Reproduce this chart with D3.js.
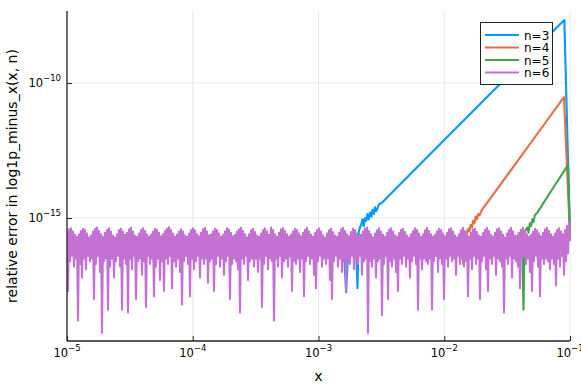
<!DOCTYPE html>
<html><head><meta charset="utf-8">
<script src="https://cdn.jsdelivr.net/npm/d3@7"></script>
<style>body{margin:0;background:#fff} text{font-family:"DejaVu Sans",sans-serif;fill:#000}</style>
</head><body><svg id="c" width="581" height="388"></svg>
<script>
// tick exponents
const xTickExp = [-5, -4, -3, -2, -1];
const yTickExp = [-15, -10];
const seriesNames = ["n=3", "n=4", "n=5", "n=6"];
const seriesColors = ["#009afa", "#e36f47", "#3ea44e", "#c371d2"];

// n=6 : log10(relative error), sampled on a log-spaced grid from 1e-5 to 1e-1
const n6LogErr = [
-15.5,-17.7,-15.42,-16.6,-15.38,-16.4,-15.5,-16.8,-15.62,-16.5,-15.7,-18.8,-15.6,-16.7,-15.48,-17.2,-15.4,-16.5,-15.45,-16.9,-15.58,-16.4,-15.72,-16.6,
-15.65,-16.5,-15.5,-18.0,-15.4,-16.7,-15.35,-16.4,-15.48,-17.0,-15.6,-19.26,-15.7,-16.6,-15.55,-16.5,-15.45,-18.4,-15.38,-16.8,-15.5,-16.5,-15.66,-17.2,
-15.72,-16.6,-15.6,-16.4,-15.45,-16.8,-15.4,-18.4,-15.5,-16.5,-15.62,-16.7,-15.55,-18.5,-15.42,-16.5,-15.36,-16.9,-15.5,-16.4,-15.66,-18.0,-15.7,-16.6,
-15.58,-16.5,-15.45,-17.1,-15.38,-16.6,-15.48,-18.3,-15.6,-16.4,-15.7,-16.7,-15.62,-16.5,-15.5,-17.9,-15.4,-16.8,-15.45,-16.5,-15.55,-17.3,-15.68,-16.6,
-15.6,-17.7,-15.48,-16.5,-15.4,-16.7,-15.34,-16.4,-15.45,-17.6,-15.58,-16.6,-15.7,-16.8,-15.62,-16.5,-15.5,-17.0,-15.42,-18.2,-15.5,-16.6,-15.64,-16.4,
-15.7,-16.7,-15.58,-17.9,-15.45,-16.5,-15.38,-16.9,-15.46,-16.6,-15.6,-16.4,-15.68,-17.2,-15.55,-16.5,-15.42,-16.7,-15.36,-16.5,-15.5,-17.4,-15.64,-16.6,
-15.6,-16.5,-15.5,-17.7,-15.4,-16.7,-15.45,-16.4,-15.58,-16.8,-15.7,-16.5,-15.62,-17.1,-15.5,-16.6,-15.38,-16.4,-15.44,-18.0,-15.56,-16.7,-15.68,-16.5,
-15.62,-16.6,-15.5,-16.9,-15.42,-18.5,-15.36,-16.5,-15.48,-16.7,-15.6,-16.4,-15.72,-17.3,-15.6,-16.6,-15.46,-16.5,-15.4,-16.8,-15.52,-16.5,-15.65,-17.0,
-15.7,-16.5,-15.58,-18.3,-15.45,-16.7,-15.38,-16.4,-15.5,-16.9,-15.62,-16.5,-15.35,-16.6,-15.45,-18.8,-15.6,-16.5,-15.7,-16.8,-15.55,-16.4,-15.42,-17.2,
-15.38,-16.6,-15.48,-16.5,-15.6,-16.8,-15.7,-16.4,-15.62,-17.7,-15.5,-16.6,-15.4,-16.7,-15.45,-16.5,-15.58,-17.0,-15.68,-16.5,-15.55,-17.9,-15.44,-16.6,
-15.36,-16.4,-15.5,-16.7,-15.62,-16.5,-15.7,-17.1,-15.56,-17.6,-15.45,-16.6,-15.38,-16.4,-15.5,-16.8,-15.64,-16.5,-15.72,-16.7,-15.58,-16.5,-15.46,-17.3,
-15.4,-18.0,-15.52,-16.6,-15.65,-16.4,-15.7,-16.8,-15.55,-16.5,-15.42,-17.0,-15.36,-16.6,-15.48,-17.7,-15.6,-16.5,-15.68,-16.7,-15.52,-16.4,-15.4,-16.9,
-15.45,-16.5,-15.58,-16.7,-15.7,-16.4,-15.62,-17.1,-15.5,-16.6,-15.4,-16.5,-15.35,-19.26,-15.48,-16.6,-15.6,-16.8,-15.72,-16.5,-15.58,-17.2,-15.46,-16.6,
-15.38,-16.5,-15.5,-18.6,-15.62,-16.7,-15.7,-16.4,-15.55,-18.0,-15.44,-16.6,-15.38,-16.8,-15.5,-16.5,-15.64,-17.0,-15.7,-17.7,-15.56,-16.5,-15.45,-16.7,
-15.4,-16.4,-15.52,-16.8,-15.65,-16.5,-15.72,-17.2,-15.6,-16.6,-15.48,-16.4,-15.38,-16.7,-15.45,-18.4,-15.58,-16.5,-15.7,-16.9,-15.6,-16.5,-15.46,-16.6,
-15.36,-16.7,-15.48,-16.5,-15.6,-18.4,-15.7,-16.6,-15.62,-16.4,-15.5,-17.0,-15.4,-16.5,-15.45,-16.7,-15.58,-18.0,-15.68,-16.5,-15.55,-16.8,-15.42,-16.4,
-15.38,-16.6,-15.5,-16.5,-15.64,-17.1,-15.72,-16.4,-15.6,-16.7,-15.46,-16.5,-15.36,-16.8,-15.48,-16.6,-15.6,-17.9,-15.7,-16.5,-15.55,-16.9,-15.42,-16.4,
-15.4,-16.7,-15.52,-16.5,-15.66,-18.0,-15.7,-16.6,-15.56,-16.4,-15.44,-16.9,-15.36,-17.7,-15.48,-16.5,-15.62,-16.7,-15.7,-16.4,-15.55,-17.1,-15.42,-16.5,
-15.38,-16.6,-15.5,-16.8,-15.62,-18.5,-15.72,-16.5,-15.58,-16.7,-15.45,-16.4,-15.36,-17.2,-15.5,-16.5,-15.64,-16.6,-15.7,-16.8,-15.55,-17.6,-15.44,-16.5,
-15.36,-16.4,-15.48,-16.7,-15.6,-16.5,-15.7,-17.0,-15.62,-17.7,-15.5,-16.6,-15.4,-16.4,-15.46,-16.8,-15.58,-17.9,-15.68,-16.5,-15.55,-16.7,-15.42,-16.5,
-15.36,-16.6,-15.48,-16.9,-15.6,-16.5,-15.7,-16.7,-15.58,-17.5,-15.45,-16.5,-15.38,-16.8,-15.5,-16.4,-15.6,-17.1,-15.45,-16.6,-15.3,-16.3,-15.15,-15.85
];

// n=3 : visible part (log10 x, log10 error)
const n3LogX   = [-2.95,-2.85,-2.80,-2.78,-2.76,-2.72,-2.70,-2.69,-2.68,-2.67,-2.66,-2.65,-2.64,-2.63,-2.62,-2.61,-2.60,-2.59,-2.58,-2.57,-2.56,-2.55,-2.54,-2.52,-2.50,-2.20,-1.80,-1.40,-1.045,-1.0];
const n3LogErr = [-15.8,-15.9,-16.0,-17.75,-15.8,-15.6,-16.2,-17.6,-15.5,-15.35,-15.25,-15.05,-15.3,-15.0,-15.1,-14.85,-15.05,-14.8,-14.95,-14.7,-14.85,-14.6,-14.75,-14.5,-14.45,-13.05,-11.18,-9.31,-7.67,-15.7];

// n=4
const n4LogX   = [-1.90,-1.86,-1.85,-1.84,-1.82,-1.81,-1.80,-1.79,-1.78,-1.77,-1.76,-1.75,-1.74,-1.73,-1.72,-1.70,-1.40,-1.20,-1.048,-1.0];
const n4LogErr = [-15.8,-15.8,-16.7,-15.7,-15.55,-15.4,-15.5,-15.25,-15.35,-15.1,-15.2,-14.95,-15.05,-14.85,-14.9,-14.7,-12.78,-11.5,-10.52,-15.7];

// n=5
const n5LogX   = [-1.45,-1.42,-1.40,-1.38,-1.37,-1.36,-1.34,-1.33,-1.32,-1.31,-1.30,-1.29,-1.28,-1.26,-1.15,-1.016,-1.0];
const n5LogErr = [-15.8,-15.7,-15.55,-15.6,-18.4,-15.5,-15.35,-15.55,-15.2,-15.3,-15.05,-15.15,-14.9,-14.8,-14.0,-13.04,-15.6];

const L = 67, R = 570, T = 11, B = 341;
const svg = d3.select("#c");

const x = d3.scaleLog().domain([1e-5, 1e-1]).range([L, R]);
const y = d3.scaleLog().domain([10 ** -19.556, 10 ** -7.333]).range([B, T]);

// grid
const g = svg.append("g");
g.selectAll(".gx").data(xTickExp).join("line")
  .attr("x1", d => x(10 ** d)).attr("x2", d => x(10 ** d))
  .attr("y1", T).attr("y2", B).attr("stroke", "#000").attr("stroke-opacity", 0.09).attr("stroke-width", 1);
g.selectAll(".gy").data(yTickExp).join("line")
  .attr("x1", L).attr("x2", R)
  .attr("y1", d => y(10 ** d)).attr("y2", d => y(10 ** d)).attr("stroke", "#000").attr("stroke-opacity", 0.09).attr("stroke-width", 1);

// series
const n6LogX = n6LogErr.map((_, i) => -5 + 4 * i / (n6LogErr.length - 1));
const series = [
  {xs: n3LogX, ys: n3LogErr},
  {xs: n4LogX, ys: n4LogErr},
  {xs: n5LogX, ys: n5LogErr},
  {xs: n6LogX, ys: n6LogErr}
];
svg.append("clipPath").attr("id", "clip").append("rect")
  .attr("x", L).attr("y", T).attr("width", R - L + 1).attr("height", B - T);
const line = d3.line().x(d => x(10 ** d[0])).y(d => y(10 ** d[1]));
const lg = svg.append("g").attr("clip-path", "url(#clip)");
series.forEach((s, k) => {
  lg.append("path")
    .attr("d", line(s.xs.map((v, i) => [v, s.ys[i]])))
    .attr("fill", "none").attr("stroke", seriesColors[k])
    .attr("stroke-width", 2.1).attr("stroke-linejoin", "round");
});

// axes
const xAxis = d3.axisBottom(x).tickValues(xTickExp.map(e => 10 ** e)).tickSizeInner(-5).tickSizeOuter(0).tickFormat("");
const yAxis = d3.axisLeft(y).tickValues(yTickExp.map(e => 10 ** e)).tickSizeInner(-5).tickSizeOuter(0).tickFormat("");
const ax = svg.append("g").attr("transform", `translate(0,${B})`).call(xAxis);
const ay = svg.append("g").attr("transform", `translate(${L},0)`).call(yAxis);
[ax, ay].forEach(a => {
  a.select(".domain").remove();
  a.selectAll(".tick line").attr("stroke", "#222").attr("stroke-width", 1);
});
svg.append("line").attr("x1", L).attr("x2", R).attr("y1", B).attr("y2", B).attr("stroke", "#222").attr("stroke-width", 1.3);
svg.append("line").attr("x1", L).attr("x2", L).attr("y1", T).attr("y2", B).attr("stroke", "#222").attr("stroke-width", 1.3);

// tick labels
xTickExp.forEach(e => {
  const t = svg.append("text").attr("x", x(10 ** e)).attr("y", 357).attr("text-anchor", "middle").attr("font-size", 11.5);
  t.append("tspan").text("10");
  t.append("tspan").attr("dy", -6).attr("font-size", 8.5).text("\u2212" + Math.abs(e));
});
yTickExp.forEach(e => {
  const t = svg.append("text").attr("x", 61).attr("y", y(10 ** e) + 4).attr("text-anchor", "end").attr("font-size", 11.5);
  t.append("tspan").text("10");
  t.append("tspan").attr("dy", -6).attr("font-size", 8.5).text("\u2212" + Math.abs(e));
});

// axis titles
svg.append("text").attr("x", (L + R) / 2).attr("y", 381).attr("text-anchor", "middle").attr("font-size", 14).text("x");
svg.append("text").attr("transform", `translate(17,${(T + B) / 2}) rotate(-90)`)
  .attr("text-anchor", "middle").attr("font-size", 14).text("relative error in log1p_minus_x(x, n)");

// legend
const leg = svg.append("g");
leg.append("rect").attr("x", 480.5).attr("y", 22.5).attr("width", 72).attr("height", 62)
  .attr("fill", "#fff").attr("stroke", "#222").attr("stroke-width", 1);
seriesNames.forEach((n, i) => {
  const yy = 35 + i * 12.5;
  leg.append("line").attr("x1", 485).attr("x2", 519).attr("y1", yy).attr("y2", yy)
    .attr("stroke", seriesColors[i]).attr("stroke-width", 2.1);
  leg.append("text").attr("x", 524).attr("y", yy + 4.5).attr("font-size", 12).text(n);
});
</script></body></html>
